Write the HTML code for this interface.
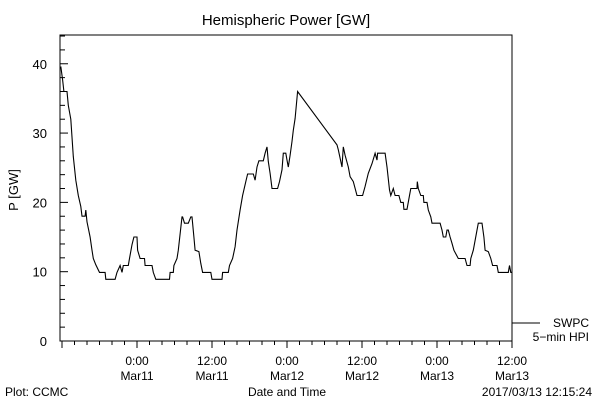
<!DOCTYPE html>
<html><head><meta charset="utf-8">
<style>
html,body{margin:0;padding:0;background:#fff;}
svg{display:block;font-family:"Liberation Sans",sans-serif;}
</style></head>
<body>
<svg id="chart" width="600" height="400" viewBox="0 0 600 400">
<rect x="0" y="0" width="600" height="400" fill="#fff"/>
<text x="286" y="25" font-size="15" text-anchor="middle">Hemispheric Power [GW]</text>
<text transform="translate(18,190) rotate(-90)" font-size="13" text-anchor="middle">P [GW]</text>
<text x="287" y="396" font-size="12" text-anchor="middle">Date and Time</text>
<text x="5" y="396" font-size="12">Plot: CCMC</text>
<text x="592" y="396" font-size="12" text-anchor="end">2017/03/13 12:15:24</text>
<g id="axes"></g>
<g id="series"></g>
<g>
<line x1="512" y1="323" x2="540" y2="323" stroke="#000" stroke-width="1"/>
<text x="589" y="327" font-size="12" text-anchor="end">SWPC</text>
<text x="589" y="341" font-size="12" text-anchor="end">5−min HPI</text>
</g>
</svg>
<script>
// hours relative to Mar11 00:00 UT
const times = [-12.2,-11.9,-11.7,-11.2,-11.0,-10.6,-10.2,-9.8,-9.4,-9.0,-8.8,-8.3,-8.2,-8.0,-7.5,-7.2,-7.0,-6.6,-6.0,-5.1,-5.0,-3.5,-3.2,-2.7,-2.4,-2.2,-1.4,-1.2,-0.8,-0.5,0.0,0.1,0.5,1.2,1.3,2.4,2.6,3.0,5.2,5.3,5.8,5.9,6.4,6.6,7.2,7.3,7.6,8.2,8.6,8.8,9.1,9.3,9.9,10.2,10.5,11.8,12.0,13.6,13.7,14.6,14.8,15.3,15.7,16.0,16.5,16.9,17.4,17.7,18.6,18.9,19.2,19.5,20.2,20.5,20.8,21.0,21.3,21.6,22.5,22.8,23.2,23.4,23.8,24.0,24.2,24.5,24.8,25.0,25.3,25.7,32.0,32.2,32.8,33.0,33.3,33.8,34.1,34.6,35.2,36.1,36.5,37.0,37.6,38.1,38.4,38.5,39.7,40.0,40.4,40.6,41.0,41.3,41.9,42.2,42.6,42.7,43.2,43.6,43.8,44.8,44.85,45.0,45.4,45.8,45.9,46.4,46.6,47.0,47.2,48.5,48.8,49.0,49.4,49.6,49.8,50.1,50.4,50.7,51.4,52.5,52.8,53.3,53.4,53.8,54.4,54.6,55.2,55.5,55.7,56.2,56.6,56.9,57.6,57.8,59.4,59.6,59.8,60.0];
const power = [39.6,37.7,36,36,34,32,26.6,23.2,21,19.4,18,18,18.9,17.2,15,13.1,11.9,11,9.9,9.9,8.9,8.9,9.9,10.9,9.9,10.9,10.9,11.9,13.9,15,15,13.1,11.9,11.9,10.9,10.9,9.9,8.9,8.9,9.9,9.9,10.9,11.9,13.1,17.9,17.9,17,17,17.9,17.9,15,13.1,12.9,11.2,9.9,9.9,8.9,8.9,9.9,9.9,10.9,11.9,13.6,16,18.9,21,23,24.1,24.1,23.2,25.1,26,26,27.1,28,25.9,24.2,22,22,23,24.7,27.1,27.1,26.1,25.1,26.8,28.8,30.4,32.1,36,28.3,27.6,25.1,28,26.8,25.1,23.7,23,21,21,22.3,24.2,25.6,27.1,26.1,27.1,27.1,25.1,21.8,21,22,21,21,20,20,19,19,21,22,22,23,22,21,21,20,20,18.9,17.9,17,17,16,15,15,16,16,15,14.1,13.1,11.9,11.9,10.9,10.9,11.9,13.1,16,17,17,15,13.1,12.9,11.9,10.9,10.9,9.9,9.9,10.9,9.9,9.9];
const yTicks = [0,10,20,30,40];
const xTickHours = [0,12,24,36,48,60];
const xTickTime = ["0:00","12:00","0:00","12:00","0:00","12:00"];
const xTickDate = ["Mar11","Mar11","Mar12","Mar12","Mar13","Mar13"];

const L=60,R=512,T=35,B=341;
const hMin=-12.32,hMax=60.0,vMin=0,vMax=44.15;
function xs(h){return L+(h-hMin)/(hMax-hMin)*(R-L);}
function ys(v){return B-(v-vMin)/(vMax-vMin)*(B-T);}
const NS="http://www.w3.org/2000/svg";
const axes=document.getElementById('axes');
function mk(tag,attrs,parent){const e=document.createElementNS(NS,tag);for(const k in attrs)e.setAttribute(k,attrs[k]);parent.appendChild(e);return e;}

const frame=mk('rect',{x:L,y:T,width:R-L,height:B-T,fill:'none',stroke:'#000','stroke-width':1},axes);



for(let v=0;v<=44;v+=2){
  const major=v%10===0;
  const t=mk('line',{x1:L,x2:L+(major?8:5),y1:ys(v),y2:ys(v),stroke:'#000'},axes);
  
  
}
yTicks.forEach(v=>{
  const t=mk('text',{x:47,y:ys(v)+5,'font-size':13,'text-anchor':'end'},axes);
  t.textContent=v;
  
  
});
for(let h=-12;h<=60;h+=2){
  const major=h%12===0;
  const t=mk('line',{x1:xs(h),x2:xs(h),y1:B,y2:B+(major?7:4),stroke:'#000'},axes);
  
  
}
xTickHours.forEach((h,i)=>{
  const a=mk('text',{x:xs(h),y:365,'font-size':12,'text-anchor':'middle'},axes);
  a.textContent=xTickTime[i];
  
  
  const b=mk('text',{x:xs(h),y:380,'font-size':12,'text-anchor':'middle'},axes);
  b.textContent=xTickDate[i];
  
  
});
const pts=times.map((h,i)=>xs(h).toFixed(1)+','+ys(power[i]).toFixed(1)).join(' ');
const line=mk('polyline',{points:pts,fill:'none',stroke:'#000','stroke-width':1.1},document.getElementById('series'));


</script>
</body></html>
